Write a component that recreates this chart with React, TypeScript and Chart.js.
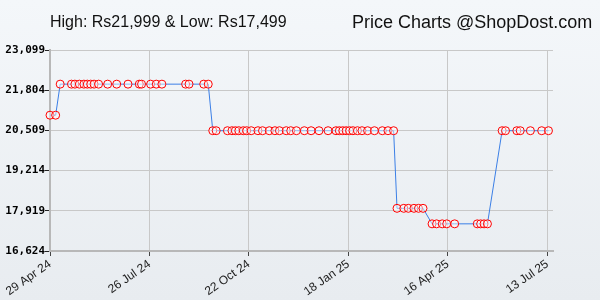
import React, { useEffect, useRef } from "react";
import { Chart, registerables } from "chart.js";

Chart.register(...registerables);

const START_DATE = "2024-04-29";
const X_MAX_DATE = "2025-07-18";

const dates = [
  "2024-04-29", "2024-05-04",
  "2024-05-08", "2024-05-18", "2024-05-21", "2024-05-25", "2024-05-29", "2024-06-01",
  "2024-06-04", "2024-06-07", "2024-06-11", "2024-06-19", "2024-06-27", "2024-07-07",
  "2024-07-17", "2024-07-19", "2024-07-27", "2024-08-01", "2024-08-06", "2024-08-27",
  "2024-08-30", "2024-09-12", "2024-09-16",
  "2024-09-20", "2024-09-23", "2024-10-03", "2024-10-07", "2024-10-10", "2024-10-13",
  "2024-10-17", "2024-10-20", "2024-10-24", "2024-10-30", "2024-11-03", "2024-11-09",
  "2024-11-14", "2024-11-18", "2024-11-24", "2024-11-28", "2024-12-03", "2024-12-10",
  "2024-12-16", "2024-12-23", "2024-12-31", "2025-01-07", "2025-01-10", "2025-01-13",
  "2025-01-16", "2025-01-19", "2025-01-22", "2025-01-26", "2025-01-30", "2025-02-04",
  "2025-02-10", "2025-02-17", "2025-02-22", "2025-02-27",
  "2025-03-02", "2025-03-08", "2025-03-12", "2025-03-17", "2025-03-21", "2025-03-25",
  "2025-04-02", "2025-04-06", "2025-04-11", "2025-04-15", "2025-04-22", "2025-05-12",
  "2025-05-15", "2025-05-18", "2025-05-21",
  "2025-06-03", "2025-06-06", "2025-06-16", "2025-06-19", "2025-06-28", "2025-07-08",
  "2025-07-14",
];

const prices = [
  20999, 20999,
  21999, 21999, 21999, 21999, 21999, 21999,
  21999, 21999, 21999, 21999, 21999, 21999,
  21999, 21999, 21999, 21999, 21999, 21999,
  21999, 21999, 21999,
  20499, 20499, 20499, 20499, 20499, 20499,
  20499, 20499, 20499, 20499, 20499, 20499,
  20499, 20499, 20499, 20499, 20499, 20499,
  20499, 20499, 20499, 20499, 20499, 20499,
  20499, 20499, 20499, 20499, 20499, 20499,
  20499, 20499, 20499, 20499,
  17999, 17999, 17999, 17999, 17999, 17999,
  17499, 17499, 17499, 17499, 17499, 17499,
  17499, 17499, 17499,
  20499, 20499, 20499, 20499, 20499, 20499,
  20499,
];

const yTicks = [16624, 17919, 19214, 20509, 21804, 23099];
const xTickDates = ["2024-04-29", "2024-07-26", "2024-10-22", "2025-01-18", "2025-04-16", "2025-07-13"];
const xTickLabels = ["29 Apr 24", "26 Jul 24", "22 Oct 24", "18 Jan 25", "16 Apr 25", "13 Jul 25"];

const titleLeft = "High: Rs21,999 & Low: Rs17,499";
const titleRight = "Price Charts @ShopDost.com";

const dayIndex = (s: string) =>
  Math.round((Date.parse(s + "T00:00:00Z") - Date.parse(START_DATE + "T00:00:00Z")) / 86400000);

const titlePlugin = {
  id: "titles",
  afterDraw(chart: any) {
    const ctx = chart.ctx;
    ctx.save();
    ctx.fillStyle = "#111";
    ctx.textBaseline = "alphabetic";
    ctx.textAlign = "left";
    ctx.font = '16px "Liberation Sans", Arial, sans-serif';
    ctx.fillText(titleLeft, 50, 27);
    ctx.font = '18px "Liberation Sans", Arial, sans-serif';
    ctx.fillText(titleRight, 352, 28);
    ctx.restore();
  },
};

export default function App() {
  const ref = useRef<HTMLCanvasElement | null>(null);

  useEffect(() => {
    document.body.style.margin = "0";
    if (!ref.current) return;
    const points = dates.map((d, i) => ({ x: dayIndex(d), y: prices[i] }));
    const chart = new Chart(ref.current, {
      type: "line",
      data: {
        datasets: [
          {
            data: points,
            borderColor: "#3b7fe6",
            borderWidth: 1,
            pointRadius: 4,
            pointHoverRadius: 4,
            pointBorderColor: "#ff0000",
            pointBackgroundColor: "rgba(255,255,255,0.45)",
            pointBorderWidth: 1,
            tension: 0,
            clip: false as any,
          } as any,
        ],
      },
      options: {
        animation: false,
        responsive: false,
        devicePixelRatio: 1,
        layout: { padding: { top: 50, right: 47, left: 0, bottom: 0 } },
        plugins: { legend: { display: false }, tooltip: { enabled: false }, title: { display: false } },
        scales: {
          x: {
            type: "linear",
            min: 0,
            max: dayIndex(X_MAX_DATE),
            afterBuildTicks: (s: any) => {
              s.ticks = xTickDates.map((d) => ({ value: dayIndex(d) }));
            },
            afterFit: (s: any) => {
              s.height = 49;
            },
            ticks: {
              autoSkip: false,
              minRotation: 35,
              maxRotation: 35,
              padding: 1,
              color: "#222",
              font: { family: '"Liberation Sans", Arial, sans-serif', size: 12 },
              callback: (v: any) => {
                const i = xTickDates.findIndex((d) => dayIndex(d) === v);
                return i >= 0 ? xTickLabels[i] : "";
              },
            },
            grid: { color: "#c8c8c8", tickColor: "#444", tickLength: 5, lineWidth: 1 },
            border: { color: "#b8b8b8", width: 2 },
          },
          y: {
            min: yTicks[0],
            max: yTicks[yTicks.length - 1],
            afterBuildTicks: (s: any) => {
              s.ticks = yTicks.map((v) => ({ value: v }));
            },
            afterFit: (s: any) => {
              s.width = 50;
            },
            ticks: {
              padding: 0,
              color: "#000",
              font: { family: '"DejaVu Sans Mono", monospace', size: 11, weight: "bold" },
              callback: (v: any) => Number(v).toLocaleString("en-US"),
            },
            grid: { color: "#c8c8c8", tickColor: "#222", tickLength: 5, lineWidth: 1 },
            border: { color: "#b8b8b8", width: 2 },
          },
        },
      } as any,
      plugins: [titlePlugin],
    });
    return () => chart.destroy();
  }, []);

  return (
    <div
      style={{
        width: 600,
        height: 300,
        background: "linear-gradient(#f4f7fa, #e8ecf0)",
      }}
    >
      <canvas ref={ref} width={600} height={300} style={{ display: "block" }} />
    </div>
  );
}
